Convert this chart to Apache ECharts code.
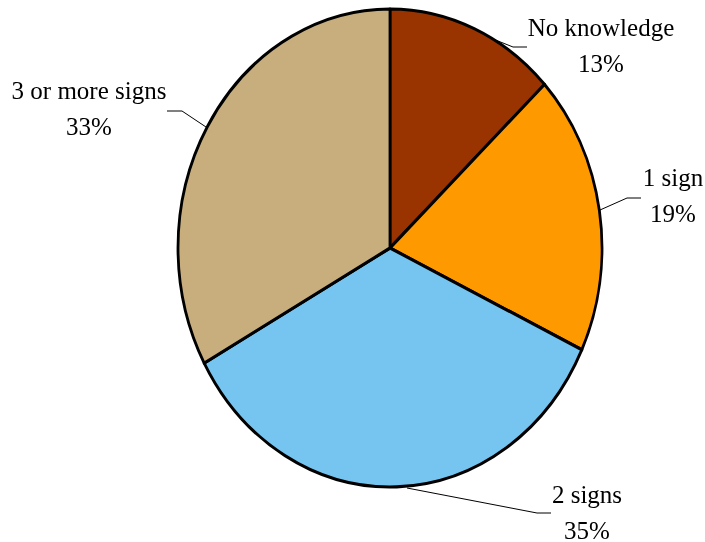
<!DOCTYPE html>
<html><head><meta charset="utf-8">
<script src="https://cdn.jsdelivr.net/npm/echarts@6/dist/echarts.min.js"></script>
<style>
html,body{margin:0;padding:0;background:#fff;}
#wrap{position:relative;width:705px;height:542px;overflow:hidden;background:#fff;}
#pie{position:absolute;left:0;top:0;width:705px;height:542px;transform:scaleY(1.1274);transform-origin:0 248px;}
#labels{position:absolute;left:0;top:0;width:705px;height:542px;}
</style></head><body>
<div id="wrap"><div id="pie"></div><div id="labels"></div></div>
<script>
// ---- data ----
const categories = ['No knowledge', '1 sign', '2 signs', '3 or more signs'];
const values = [13, 19, 35, 33];
const colors = ['#993300', '#FF9900', '#75C5F0', '#C8AE7D'];

// ---- layout (label centres and leader lines, pixels) ----
const labelPos = [[601, 47], [673, 197], [587, 514], [89, 110]];
const leaders = [
  [[493, 39], [513, 47], [527, 47]],
  [[600, 210], [627, 198], [641, 198]],
  [[407, 488], [537, 513], [551, 513]],
  [[206, 127], [182, 111], [167, 111]]
];

const seriesData = categories.map((c, i) => ({ name: c, value: values[i], itemStyle: { color: colors[i] } }));

// pie body (stretched vertically to the reference's ellipse)
const pieChart = echarts.init(document.getElementById('pie'), null, { renderer: 'svg' });
pieChart.setOption({
  animation: false,
  series: [{
    type: 'pie',
    center: [390, 248],
    radius: 212,
    startAngle: 90,
    clockwise: true,
    silent: true,
    label: { show: false },
    labelLine: { show: false },
    itemStyle: { borderColor: '#000', borderWidth: 2.8 },
    data: seriesData
  }]
});

// labels overlay (not stretched)
const labelChart = echarts.init(document.getElementById('labels'), null, { renderer: 'canvas' });
labelChart.setOption({
  animation: false,
  graphic: leaders.map(pts => ({
    type: 'polyline',
    silent: true,
    shape: { points: pts },
    style: { stroke: '#000', lineWidth: 1, fill: null }
  })),
  series: [{
    type: 'pie',
    center: [390, 248],
    radius: 212,
    startAngle: 90,
    clockwise: true,
    silent: true,
    percentPrecision: 0,
    itemStyle: { color: 'rgba(0,0,0,0)', borderWidth: 0 },
    label: {
      show: true,
      position: 'outside',
      formatter: '{b}\n{d}%',
      fontFamily: '"Liberation Serif", "Times New Roman", serif',
      fontSize: 25,
      lineHeight: 36,
      color: '#000',
      align: 'center',
      overflow: 'none'
    },
    labelLine: { show: false },
    labelLayout: function (p) {
      const L = labelPos[p.dataIndex];
      return { x: L[0], y: L[1], align: 'center', verticalAlign: 'middle', width: 220 };
    },
    data: categories.map((c, i) => ({ name: c, value: values[i] }))
  }]
});
</script>
</body></html>
